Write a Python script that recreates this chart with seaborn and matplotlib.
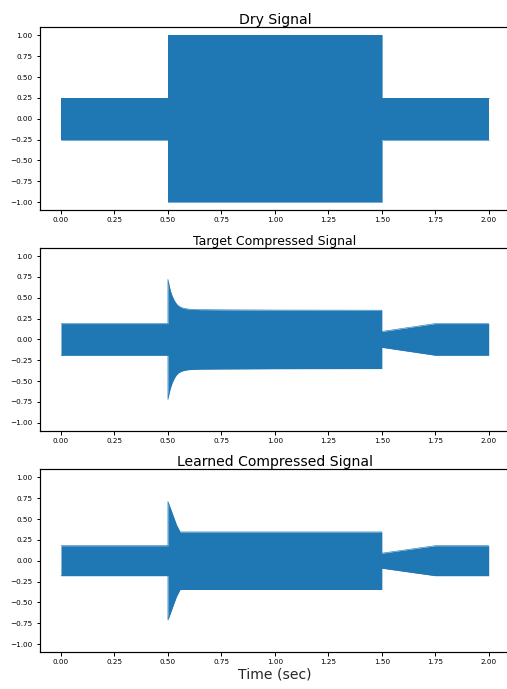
import matplotlib
matplotlib.use("Agg")
import matplotlib.pyplot as plt
import numpy as np
import pandas as pd
import seaborn as sns

# Amplitude envelopes (time in seconds, peak amplitude) of each signal
dry_t = [0.0, 0.5, 0.5, 1.5, 1.5, 2.0]
dry_amp = [0.25, 0.25, 1.0, 1.0, 0.25, 0.25]

target_t = [0.0, 0.5, 0.5, 0.503, 0.507, 0.512, 0.52, 0.53, 0.54, 0.55, 0.565,
            0.58, 0.6, 0.65, 0.75, 1.0, 1.5, 1.5, 1.75, 2.0]
target_amp = [0.19, 0.19, 0.72, 0.68, 0.63, 0.58, 0.52, 0.465, 0.425, 0.40, 0.38,
              0.37, 0.362, 0.357, 0.355, 0.352, 0.35, 0.095, 0.19, 0.19]

learned_t = [0.0, 0.5, 0.5, 0.51, 0.52, 0.53, 0.54, 0.55, 0.557, 1.5, 1.5, 1.75, 2.0]
learned_amp = [0.18, 0.18, 0.71, 0.64, 0.57, 0.50, 0.43, 0.38, 0.345, 0.345, 0.09, 0.18, 0.18]

titles = ["Dry Signal", "Target Compressed Signal", "Learned Compressed Signal"]
title_sizes = [14, 12.5, 14]
x_ticks = [0.0, 0.25, 0.5, 0.75, 1.0, 1.25, 1.5, 1.75, 2.0]
y_ticks = [-1.0, -0.75, -0.5, -0.25, 0.0, 0.25, 0.5, 0.75, 1.0]

sns.set_style("ticks")
plt.rcParams.update({
    "font.family": ["DejaVu Sans"],
    "axes.edgecolor": "black",
    "axes.linewidth": 1.2,
    "xtick.color": "black",
    "ytick.color": "black",
    "xtick.labelsize": 7.3,
    "ytick.labelsize": 7.3,
    "xtick.major.size": 3.5,
    "ytick.major.size": 3.5,
    "xtick.major.width": 1.0,
    "ytick.major.width": 1.0,
    "text.color": "black",
})

W, H = 507, 689
fig = plt.figure(figsize=(W / 72, H / 72), dpi=72)

color = "#1f77b4"
left = 39.6 / W
width = (510.1 - 39.6) / W
tops = [27.0, 247.7, 469.0]
ax_h = 183.4

signals = [(dry_t, dry_amp), (target_t, target_amp), (learned_t, learned_amp)]
axes = []
for i, (t, amp) in enumerate(signals):
    bottom = 1 - (tops[i] + ax_h) / H
    ax = fig.add_axes([left, bottom, width, ax_h / H])
    df = pd.DataFrame({"time": t, "upper": amp, "lower": [-a for a in amp]})
    sns.lineplot(data=df, x="time", y="upper", estimator=None, sort=False,
                 color=color, linewidth=0.6, ax=ax)
    sns.lineplot(data=df, x="time", y="lower", estimator=None, sort=False,
                 color=color, linewidth=0.6, ax=ax)
    ax.fill_between(df["time"], df["lower"], df["upper"], color=color,
                    linewidth=0)
    ax.set_xlim(-0.1, 2.1)
    ax.set_ylim(-1.1, 1.1)
    ax.set_xticks(x_ticks)
    ax.set_yticks(y_ticks)
    ax.set_xticklabels([f"{v:.2f}" for v in x_ticks])
    ax.set_yticklabels([f"{v:.2f}".replace("-", "\u2212") for v in y_ticks])
    ax.set_xlabel("")
    ax.set_ylabel("")
    ax.set_title(titles[i], fontsize=title_sizes[i], pad=3)
    for s in ax.spines.values():
        s.set_visible(True)
    axes.append(ax)

axes[-1].set_xlabel("Time (sec)", fontsize=14, labelpad=2)

fig.savefig("out.png", dpi=72)
